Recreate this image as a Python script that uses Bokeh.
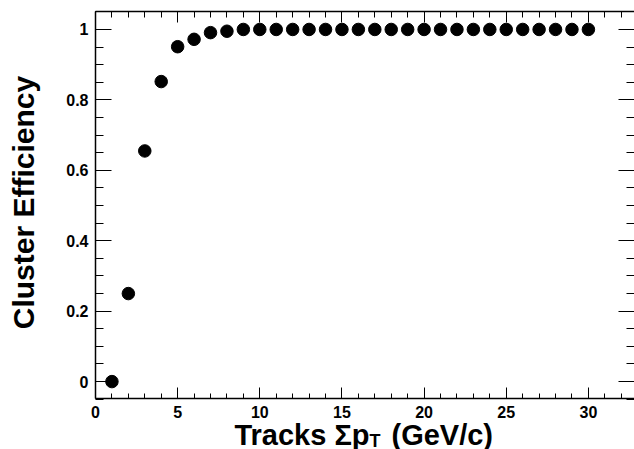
import math
from bokeh.plotting import figure
from bokeh.models import Range1d, LinearAxis, FixedTicker, Label
from bokeh.embed import file_html
from bokeh.resources import INLINE

# ---- data ----
track_sum_pt = [1, 2, 3, 4, 5, 6, 7, 8, 9, 10, 11, 12, 13, 14, 15,
                16, 17, 18, 19, 20, 21, 22, 23, 24, 25, 26, 27, 28, 29, 30]
efficiency = [0.0, 0.25, 0.655, 0.852, 0.951, 0.972, 0.991, 0.995, 1.0, 1.0,
              1.0, 1.0, 1.0, 1.0, 1.0, 1.0, 1.0, 1.0, 1.0, 1.0,
              1.0, 1.0, 1.0, 1.0, 1.0, 1.0, 1.0, 1.0, 1.0, 1.0]

x_tick_values = [0, 5, 10, 15, 20, 25, 30]
x_tick_labels = ["0", "5", "10", "15", "20", "25", "30"]
y_tick_values = [0.0, 0.2, 0.4, 0.6, 0.8, 1.0]
y_tick_labels = ["0", "0.2", "0.4", "0.6", "0.8", "1"]

x_axis_min, x_axis_max = 0.0, 32.8     # visible box of the plot
y_axis_min, y_axis_max = -0.048, 1.051

x_minor = list(range(0, 33))
y_minor = [round(-0.05 + 0.05 * i, 2) for i in range(23)]

FONT = "Liberation Sans"

# ---- layout (pixels of the picture) ----
W, H = 634, 449
OX, OY = 0, 0                 # canvas origin in the picture
BOX_L, BOX_T, BOX_B = 95, 11, 398   # plot box edges in the picture
px_per_x = 16.43
px_per_y = (BOX_B - BOX_T) / (y_axis_max - y_axis_min)
x_start = x_axis_min - (BOX_L - OX) / px_per_x
x_end = x_start + W / px_per_x
y_end = y_axis_max + (BOX_T - OY) / px_per_y
y_start = y_end - H / px_per_y

p = figure(width=W, height=H,
           x_range=Range1d(x_start, x_end), y_range=Range1d(y_start, y_end),
           output_backend="svg", toolbar_location=None,
           x_axis_type=None, y_axis_type=None,
           min_border_left=0, min_border_right=0,
           min_border_top=0, min_border_bottom=0)
p.outline_line_color = None
p.background_fill_color = "white"
p.border_fill_color = "white"


def make_axis(values, labels, minors, tick_in, minor_in, show_labels,
              loc, bounds, line=True, standoff=7):
    ax = LinearAxis(ticker=FixedTicker(ticks=values, minor_ticks=minors),
                    fixed_location=loc, bounds=bounds)
    ax.major_tick_in = tick_in
    ax.major_tick_out = 0
    ax.minor_tick_in = minor_in
    ax.minor_tick_out = 0
    ax.major_tick_line_color = "black"
    ax.minor_tick_line_color = "black"
    ax.major_tick_line_width = 1
    ax.minor_tick_line_width = 1
    if line:
        ax.axis_line_color = "black"
        ax.axis_line_width = 1.5
    else:
        ax.axis_line_color = None
    if show_labels:
        ax.major_label_overrides = {v: s for v, s in zip(values, labels)}
        ax.major_label_text_font = FONT
        ax.major_label_text_font_style = "bold"
        ax.major_label_text_font_size = "16px"
        ax.major_label_text_color = "black"
        ax.major_label_standoff = standoff
    else:
        ax.major_label_text_font_size = "0px"
        ax.major_label_standoff = 0
        ax.major_label_text_color = None
    return ax


xb = (x_axis_min, x_axis_max)
yb = (y_axis_min, y_axis_max)
bottom = make_axis(x_tick_values, x_tick_labels, x_minor, 11, 5, True, y_axis_min, xb)
top = make_axis(x_tick_values, x_tick_labels, x_minor, 11, 6, False, y_axis_max, xb)
left = make_axis(y_tick_values, y_tick_labels, y_minor, 16, 8, True, x_axis_min, yb)
right = make_axis(y_tick_values, y_tick_labels, y_minor, 16, 8, False, x_axis_max, yb,
                  line=False)

p.add_layout(bottom, "below")
p.add_layout(top, "above")
p.add_layout(left, "left")
p.add_layout(right, "right")

p.scatter(track_sum_pt, efficiency, size=12.5, color="black", marker="circle")


def sx(px):
    return px - OX


def sy(py):
    return OY + H - py


common = dict(x_units="screen", y_units="screen", text_font=FONT,
              text_font_style="bold", text_color="black",
              text_baseline="alphabetic")

# y-axis title
p.add_layout(Label(x=sx(23), y=sy(202), text="Cluster Efficiency",
                   text_align="center", angle=math.pi / 2,
                   text_font_size="30px", **common))

# x-axis title with subscript
p.add_layout(Label(x=sx(369), y=sy(434), text="Tracks \u03a3p", text_align="right",
                   text_font_size="29px", **common))
p.add_layout(Label(x=sx(369), y=sy(440), text="T", text_align="left",
                   text_font_size="18px", **common))
p.add_layout(Label(x=sx(391), y=sy(434), text="(GeV/c)", text_align="left",
                   text_font_size="29px", **common))

open("out.html", "w").write(file_html(p, INLINE))
